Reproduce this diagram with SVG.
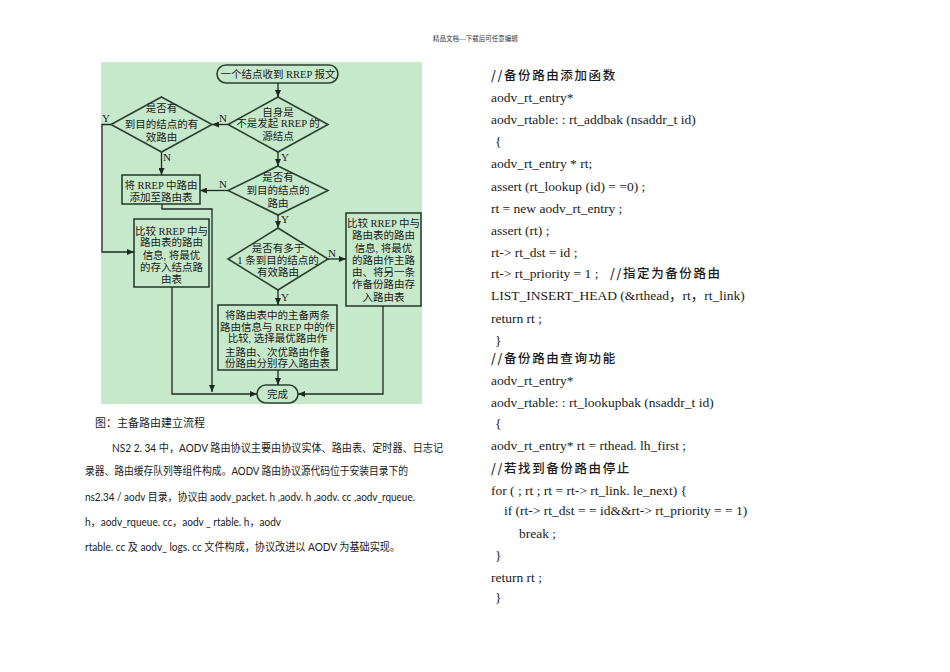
<svg xmlns="http://www.w3.org/2000/svg" width="950" height="672" viewBox="0 0 950 672">
<defs>
<marker id="ah" markerUnits="userSpaceOnUse" markerWidth="7" markerHeight="6" refX="7" refY="3" orient="auto">
<path d="M0,0 L7,3 L0,6 Z" fill="#1e2a20"/>
</marker>
<style>
.nd{fill:none;stroke:#2b4230;stroke-width:1.6}
.ft{font-family:"Liberation Serif","Noto Sans CJK SC",serif;font-size:10.5px;fill:#1a1a1a;text-anchor:middle}
.lb{font-family:"Liberation Serif",serif;font-size:11px;fill:#1a1a1a;text-anchor:middle}
.cn{fill:none;stroke:#1e2a20;stroke-width:1.3}
.para{font-family:Lato,"Noto Sans CJK SC",sans-serif;font-size:11px;fill:#1a1a1a}
.code{font-family:"Liberation Serif","Noto Sans CJK SC",serif;font-size:13.5px;fill:#1a1a1a}
.cm{font-family:"Noto Sans CJK SC",sans-serif;font-size:12.5px;fill:#1a1a1a;letter-spacing:1.6px;font-weight:500}
</style>
</defs>
<rect width="950" height="672" fill="#ffffff"/>
<text x="433" y="41" style="font-family:'Noto Sans CJK SC',sans-serif;font-size:6.5px;fill:#333">精品文档---下载后可任意编辑</text>
<rect x="101" y="62" width="321" height="342" fill="#c7e9cb"/>

<g id="start">
<rect x="217" y="65" width="121" height="18" rx="9" class="nd"/>
<text x="278" y="78" class="ft" font-size="11">一个结点收到 RREP 报文</text>
</g>
<g id="d1">
<polygon points="278,97 328,124.5 278,152 228,124.5" class="nd"/>
<text x="278" y="116" class="ft">自身是</text>
<text x="278" y="127" class="ft">不是发起 RREP 的</text>
<text x="278" y="140" class="ft">源结点</text>
</g>
<g id="dL">
<polygon points="161.5,97 212,124.5 161.5,152 111,124.5" class="nd"/>
<text x="161.5" y="112" class="ft">是否有</text>
<text x="161.5" y="128" class="ft">到目的结点的有</text>
<text x="161.5" y="141" class="ft">效路由</text>
</g>
<g id="d2">
<polygon points="278,166 328,190.5 278,215 228,190.5" class="nd"/>
<text x="278" y="181" class="ft">是否有</text>
<text x="278" y="194" class="ft">到目的结点的</text>
<text x="278" y="207" class="ft">路由</text>
</g>
<g id="d3">
<polygon points="278,228 328,259 278,290 228,259" class="nd"/>
<text x="278" y="252" class="ft">是否有多于</text>
<text x="278" y="264" class="ft">1 条到目的结点的</text>
<text x="278" y="276" class="ft">有效路由</text>
</g>
<g id="box1">
<rect x="122" y="175" width="78" height="29" class="nd"/>
<text x="161" y="189" class="ft">将 RREP 中路由</text>
<text x="161" y="201" class="ft">添加至路由表</text>
</g>
<g id="boxL">
<rect x="134" y="219" width="75" height="68" class="nd"/>
<text x="171.5" y="235" class="ft">比较 RREP 中与</text>
<text x="171.5" y="246" class="ft">路由表的路由</text>
<text x="171.5" y="259" class="ft">信息, 将最优</text>
<text x="171.5" y="271" class="ft">的存入结点路</text>
<text x="171.5" y="283" class="ft">由表</text>
</g>
<g id="boxR">
<rect x="346" y="213" width="75" height="93" class="nd"/>
<text x="383.5" y="227" class="ft">比较 RREP 中与</text>
<text x="383.5" y="239" class="ft">路由表的路由</text>
<text x="383.5" y="252" class="ft">信息, 将最优</text>
<text x="383.5" y="264" class="ft">的路由作主路</text>
<text x="383.5" y="276" class="ft">由、将另一条</text>
<text x="383.5" y="288" class="ft">作备份路由存</text>
<text x="383.5" y="301" class="ft">入路由表</text>
</g>
<g id="boxB">
<rect x="218" y="305" width="119" height="65" class="nd"/>
<text x="277.5" y="319" class="ft">将路由表中的主备两条</text>
<text x="277.5" y="331" class="ft">路由信息与 RREP 中的作</text>
<text x="277.5" y="342" class="ft">比较, 选择最优路由作</text>
<text x="277.5" y="356" class="ft">主路由、次优路由作备</text>
<text x="277.5" y="367" class="ft">份路由分别存入路由表</text>
</g>
<g id="end">
<rect x="257" y="385" width="41" height="18" rx="9" class="nd"/>
<text x="277.5" y="398" class="ft" font-size="11">完成</text>
</g>

<g id="connectors">
<line x1="278" y1="83" x2="278" y2="97" class="cn" marker-end="url(#ah)"/>
<line x1="228" y1="124.5" x2="212" y2="124.5" class="cn" marker-end="url(#ah)"/>
<line x1="278" y1="152" x2="278" y2="166" class="cn" marker-end="url(#ah)"/>
<line x1="228" y1="190.5" x2="200" y2="190.5" class="cn" marker-end="url(#ah)"/>
<line x1="278" y1="215" x2="278" y2="228" class="cn" marker-end="url(#ah)"/>
<line x1="328" y1="259" x2="346" y2="259" class="cn" marker-end="url(#ah)"/>
<line x1="278" y1="290" x2="278" y2="305" class="cn" marker-end="url(#ah)"/>
<line x1="278" y1="370" x2="278" y2="385" class="cn" marker-end="url(#ah)"/>
<polyline points="111,124.5 102,124.5 102,252 134,252" class="cn" marker-end="url(#ah)"/>
<line x1="161.5" y1="152" x2="161.5" y2="175" class="cn" marker-end="url(#ah)"/>
<polyline points="162,204 162,209 212,209 212,392" class="cn" marker-end="url(#ah)"/>
<polyline points="172,287 172,394 257,394" class="cn" marker-end="url(#ah)"/>
<polyline points="383,306 383,394 298,394" class="cn" marker-end="url(#ah)"/>
<text x="223" y="122" class="lb">N</text>
<text x="285" y="161" class="lb">Y</text>
<text x="223" y="188" class="lb">N</text>
<text x="285" y="223" class="lb">Y</text>
<text x="332" y="257" class="lb">N</text>
<text x="285" y="301" class="lb">Y</text>
<text x="106" y="122" class="lb">Y</text>
<text x="167" y="161" class="lb">N</text>
</g>

<text x="95" y="427" style="font-family:'Noto Sans CJK SC',sans-serif;font-size:11px;fill:#1a1a1a">图：主备路由建立流程</text>
<text x="112" y="452" class="para" textLength="331" lengthAdjust="spacingAndGlyphs">NS2 2. 34 中，AODV 路由协议主要由协议实体、路由表、定时器、日志记</text>
<text x="85" y="475" class="para" textLength="323" lengthAdjust="spacingAndGlyphs">录器、路由缓存队列等组件构成。AODV 路由协议源代码位于安装目录下的</text>
<text x="85" y="501" class="para" textLength="330" lengthAdjust="spacingAndGlyphs">ns2.34 / aodv 目录，协议由 aodv_packet. h ,aodv. h ,aodv. cc ,aodv_rqueue.</text>
<text x="85" y="526" class="para" textLength="196" lengthAdjust="spacingAndGlyphs">h，aodv_rqueue. cc，aodv _ rtable. h，aodv</text>
<text x="85" y="551" class="para" textLength="315" lengthAdjust="spacingAndGlyphs">rtable. cc 及 aodv_ logs. cc 文件构成，协议改进以 AODV 为基础实现。</text>

<g id="code">
<text x="491" y="80" class="cm">//备份路由添加函数</text>
<text x="491" y="102" class="code">aodv_rt_entry*</text>
<text x="491" y="124" class="code">aodv_rtable: : rt_addbak (nsaddr_t id)</text>
<text x="495" y="146" class="code">{</text>
<text x="491" y="168" class="code">aodv_rt_entry *  rt;</text>
<text x="491" y="191" class="code">assert (rt_lookup (id)  =  =0) ;</text>
<text x="491" y="213" class="code">rt = new aodv_rt_entry ;</text>
<text x="491" y="235" class="code">assert (rt) ;</text>
<text x="491" y="257" class="code">rt-&gt; rt_dst = id ;</text>
<text x="491" y="278" class="code">rt-&gt; rt_priority = 1 ;</text>
<text x="610" y="278" class="cm">//指定为备份路由</text>
<text x="491" y="300" class="code">LIST_INSERT_HEAD (&amp;rthead，rt，rt_link)</text>
<text x="491" y="323" class="code">return rt ;</text>
<text x="495" y="345" class="code">}</text>
<text x="491" y="363" class="cm">//备份路由查询功能</text>
<text x="491" y="385" class="code">aodv_rt_entry*</text>
<text x="491" y="407" class="code">aodv_rtable: : rt_lookupbak (nsaddr_t id)</text>
<text x="495" y="428" class="code">{</text>
<text x="491" y="450" class="code">aodv_rt_entry*  rt = rthead. lh_first ;</text>
<text x="491" y="473" class="cm">//若找到备份路由停止</text>
<text x="491" y="495" class="code">for ( ; rt ; rt = rt-&gt; rt_link. le_next) {</text>
<text x="504" y="515" class="code">if (rt-&gt; rt_dst = = id&amp;&amp;rt-&gt; rt_priority = = 1)</text>
<text x="519" y="538" class="code">break ;</text>
<text x="495" y="560" class="code">}</text>
<text x="491" y="582" class="code">return rt ;</text>
<text x="495" y="602" class="code">}</text>
</g>
</svg>
